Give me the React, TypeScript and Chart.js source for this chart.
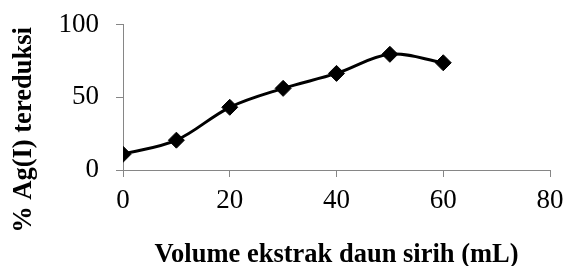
import React, { useEffect, useRef } from "react";
import { Chart, registerables } from "chart.js";
Chart.register(...registerables);

const volumes = [0, 10, 20, 30, 40, 50, 60];
const reduced = [10.8, 20.5, 43.1, 56.1, 66.4, 79.5, 73.7];
const xTicks = [0, 20, 40, 60, 80];
const yTicks = [0, 50, 100];
const xTitle = "Volume ekstrak daun sirih (mL)";
const yTitle = "% Ag(I) tereduksi";

const FONT = "'Liberation Serif', 'Times New Roman', serif";
const AXIS = "#868686";

const titlePlugin = {
  id: "titles",
  afterDraw(chart: any) {
    const { ctx, chartArea } = chart;
    ctx.save();
    ctx.fillStyle = "#000";
    ctx.font = `bold 26.5px ${FONT}`;
    ctx.textAlign = "center";
    ctx.textBaseline = "alphabetic";
    ctx.fillText(xTitle, (chartArea.left + chartArea.right) / 2, 261.5);
    ctx.translate(31, 130);
    ctx.rotate(-Math.PI / 2);
    ctx.fillText(yTitle, 0, 0);
    ctx.restore();
  },
};

export default function App() {
  const ref = useRef<HTMLCanvasElement>(null);
  useEffect(() => {
    if (!ref.current) return;
    const chart = new Chart(ref.current, {
      type: "line",
      data: {
        datasets: [
          {
            data: volumes.map((v, i) => ({ x: v, y: reduced[i] })),
            borderColor: "#000",
            backgroundColor: "#000",
            borderWidth: 3,
            pointStyle: "rectRot",
            pointRadius: 8,
            pointBorderWidth: 1,
            pointBackgroundColor: "#000",
            pointBorderColor: "#000",
            tension: 0.35,
          },
        ],
      },
      options: {
        responsive: false,
        animation: false,
        layout: { padding: { top: 24.5, right: 15, left: 0, bottom: 0 } },
        plugins: { legend: { display: false }, tooltip: { enabled: false } },
        scales: {
          x: {
            type: "linear",
            min: 0,
            max: 80,
            afterBuildTicks: (s: any) => {
              s.ticks = xTicks.map((v) => ({ value: v }));
            },
            afterFit: (s: any) => {
              s.height = 96;
              s.paddingLeft = 0;
              s.paddingRight = 0;
            },
            grid: { drawOnChartArea: false, color: AXIS, tickLength: 7, lineWidth: 1 },
            border: { color: AXIS, width: 1 },
            ticks: { color: "#000", font: { family: FONT, size: 27 }, padding: 8, maxRotation: 0 },
          },
          y: {
            min: 0,
            max: 100,
            afterBuildTicks: (s: any) => {
              s.ticks = yTicks.map((v) => ({ value: v }));
            },
            afterFit: (s: any) => {
              s.width = 123;
              s.paddingTop = 0;
              s.paddingBottom = 0;
            },
            grid: { drawOnChartArea: false, color: AXIS, tickLength: 7, lineWidth: 1 },
            border: { color: AXIS, width: 1 },
            ticks: { color: "#000", font: { family: FONT, size: 27 }, padding: 17 },
          },
        },
      },
      plugins: [titlePlugin],
    });
    return () => chart.destroy();
  }, []);
  return (
    <div style={{ position: "fixed", left: 0, top: 0, width: 565, height: 266, background: "#fff" }}>
      <canvas ref={ref} width={565} height={266} style={{ display: "block" }} />
    </div>
  );
}
